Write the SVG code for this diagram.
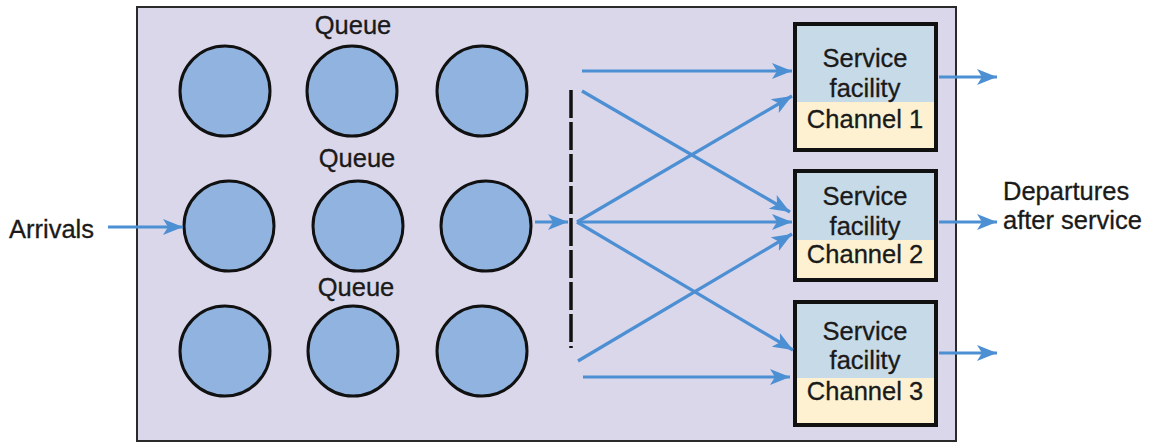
<svg xmlns="http://www.w3.org/2000/svg" width="1154" height="442" viewBox="0 0 1154 442">
<style>
.t{font-family:"Liberation Sans",Arial,sans-serif;font-size:25.5px;fill:#1a1a1a;stroke:#1a1a1a;stroke-width:0.3}
.c{text-anchor:middle}
.q{fill:#91b3e0;stroke:#111;stroke-width:3}
.a{stroke:#4d8fd3;stroke-width:3.2;fill:none;marker-end:url(#ah)}
.bx{stroke:#111;stroke-width:4;fill:none}
</style>
<defs>
<marker id="ah" markerUnits="userSpaceOnUse" markerWidth="22" markerHeight="20" refX="20" refY="10" orient="auto">
<path d="M0,2 L20,10 L0,18 L5,10 z" fill="#4d8fd3"/>
</marker>
</defs>
<rect width="1154" height="442" fill="#fff"/>
<rect id="system" x="137" y="7" width="819" height="434" fill="#dad7ea" stroke="#2a2a2a" stroke-width="2"/>
<g id="queue1">
<text class="t c" x="353" y="34">Queue</text>
<circle class="q" cx="225" cy="91" r="45"/>
<circle class="q" cx="352" cy="91" r="45"/>
<circle class="q" cx="482" cy="91" r="45"/>
</g>
<g id="queue2">
<text class="t c" x="357" y="167">Queue</text>
<circle class="q" cx="229" cy="226" r="45"/>
<circle class="q" cx="358" cy="226" r="45"/>
<circle class="q" cx="486" cy="226" r="45"/>
</g>
<g id="queue3">
<text class="t c" x="356" y="296">Queue</text>
<circle class="q" cx="225" cy="351" r="45"/>
<circle class="q" cx="353" cy="351" r="45"/>
<circle class="q" cx="482" cy="351" r="45"/>
</g>
<g id="divider">
<line x1="571" y1="90" x2="571" y2="348" stroke="#111" stroke-width="3.5" stroke-dasharray="28 4"/>
</g>
<g id="channel1">
<rect x="795" y="24" width="141" height="78" fill="#c6dae7"/>
<rect x="795" y="102" width="141" height="48" fill="#fdf1d2"/>
<rect class="bx" x="795" y="24" width="141" height="126"/>
<text class="t c" x="865" y="67">Service</text>
<text class="t c" x="865" y="97">facility</text>
<text class="t c" x="865" y="128">Channel 1</text>
</g>
<g id="channel2">
<rect x="795" y="171" width="141" height="69" fill="#c6dae7"/>
<rect x="795" y="240" width="141" height="40" fill="#fdf1d2"/>
<rect class="bx" x="795" y="171" width="141" height="109"/>
<text class="t c" x="865" y="205">Service</text>
<text class="t c" x="865" y="235">facility</text>
<text class="t c" x="865" y="263">Channel 2</text>
</g>
<g id="channel3">
<rect x="795" y="302" width="141" height="76" fill="#c6dae7"/>
<rect x="795" y="378" width="141" height="47" fill="#fdf1d2"/>
<rect class="bx" x="795" y="302" width="141" height="123"/>
<text class="t c" x="865" y="340">Service</text>
<text class="t c" x="865" y="369">facility</text>
<text class="t c" x="865" y="400">Channel 3</text>
</g>
<g id="arrivals">
<text class="t" x="9" y="238">Arrivals</text>
</g>
<g id="departures">
<text class="t" x="1003" y="200">Departures</text>
<text class="t" x="1003" y="229">after service</text>
</g>
<g id="connectors">
<line class="a" x1="108" y1="227" x2="183" y2="227"/>
<line class="a" x1="535" y1="222" x2="568" y2="222"/>
<line class="a" x1="582" y1="71" x2="792" y2="71"/>
<line class="a" x1="582" y1="91" x2="790" y2="212"/>
<line class="a" x1="577" y1="222" x2="792" y2="96"/>
<line class="a" x1="577" y1="222" x2="792" y2="222"/>
<line class="a" x1="577" y1="222" x2="793" y2="350"/>
<line class="a" x1="578" y1="361" x2="792" y2="234"/>
<line class="a" x1="583" y1="377" x2="790" y2="377"/>
<line class="a" x1="939" y1="77" x2="997" y2="77"/>
<line class="a" x1="939" y1="222" x2="997" y2="222"/>
<line class="a" x1="939" y1="353" x2="997" y2="353"/>
</g>
</svg>
